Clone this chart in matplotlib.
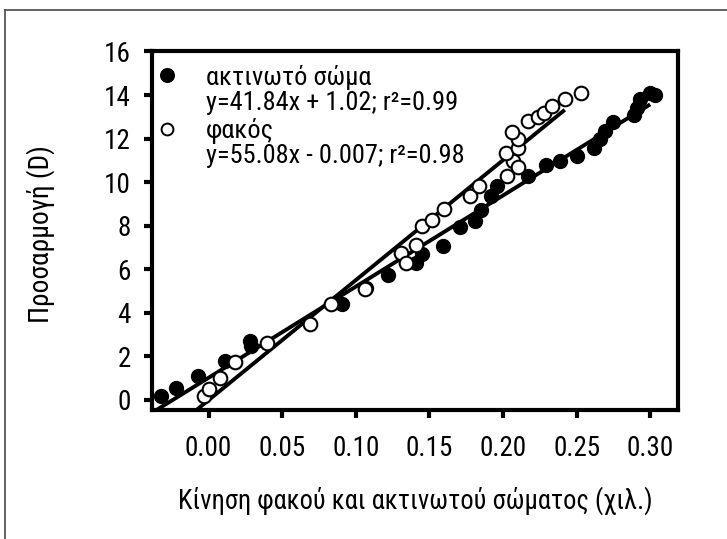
import matplotlib
matplotlib.use("Agg")
import matplotlib.pyplot as plt
from matplotlib.lines import Line2D
import numpy as np

plt.rcParams['font.family'] = ['Roboto Condensed', 'DejaVu Sans']

# Ciliary body movement (filled circles)
cb_x = [-0.032, -0.022, -0.007, 0.011, 0.028, 0.029, 0.0905, 0.107, 0.122, 0.141, 0.145,
        0.159, 0.171, 0.181, 0.185, 0.192, 0.196, 0.217, 0.229, 0.239, 0.250, 0.262,
        0.266, 0.269, 0.275, 0.289, 0.291, 0.293, 0.300, 0.303]
cb_y = [0.20, 0.57, 1.10, 1.78, 2.70, 2.50, 4.39, 5.13, 5.73, 6.29, 6.68,
        7.08, 7.95, 8.21, 8.74, 9.37, 9.84, 10.30, 10.80, 10.95, 11.20, 11.55,
        11.97, 12.37, 12.76, 13.08, 13.40, 13.80, 14.10, 14.00]

# Lens movement (open circles)
lens_x = [-0.003, 0.0006, 0.008, 0.018, 0.040, 0.069, 0.083, 0.106, 0.131, 0.134,
          0.141, 0.145, 0.152, 0.160, 0.1775, 0.184, 0.203, 0.207, 0.2105, 0.202,
          0.210, 0.2105, 0.206, 0.217, 0.224, 0.228, 0.233, 0.242, 0.253]
lens_y = [0.20, 0.52, 1.03, 1.74, 2.62, 3.49, 4.39, 5.10, 6.76, 6.29,
          7.11, 7.99, 8.26, 8.78, 9.37, 9.84, 10.28, 10.95, 10.70, 11.34,
          11.58, 11.97, 12.32, 12.80, 12.97, 13.16, 13.50, 13.80, 14.08]

# Linear fits
cb_slope, cb_icpt = 41.84, 1.02
lens_slope, lens_icpt = 55.08, -0.007
cb_fit_range = [-0.036, 0.300]
lens_fit_range = [-0.009, 0.242]

x_ticks = [0.00, 0.05, 0.10, 0.15, 0.20, 0.25, 0.30]
y_ticks = [0, 2, 4, 6, 8, 10, 12, 14, 16]

cb_label = "ακτινωτό σώμα"
cb_eq = "y=41.84x + 1.02; r²=0.99"
lens_label = "φακός"
lens_eq = "y=55.08x - 0.007; r²=0.98"
x_title = "Κίνηση φακού και ακτινωτού σώματος (χιλ.)"
y_title = "Προσαρμογή (D)"

fig = plt.figure(figsize=(7.27, 5.39), dpi=100)
ax = fig.add_axes([0.2087, 0.2393, 0.7245, 0.6652])

# Outer frame lines (left and top)
fig.add_artist(Line2D([4.5 / 727, 4.5 / 727], [0, 1 - 9.5 / 539], transform=fig.transFigure,
                      color='#555555', lw=1.3))
fig.add_artist(Line2D([4.5 / 727, 1], [1 - 9.5 / 539, 1 - 9.5 / 539], transform=fig.transFigure,
                      color='#555555', lw=1.3))

# Regression lines
fx = np.array(cb_fit_range)
ax.plot(fx, cb_slope * fx + cb_icpt, color='black', lw=2.8, zorder=2, solid_capstyle='butt')
fx = np.array(lens_fit_range)
ax.plot(fx, lens_slope * fx + lens_icpt, color='black', lw=2.8, zorder=2, solid_capstyle='butt')

ax.plot(cb_x, cb_y, 'o', ms=9.8, mfc='black', mec='black', mew=1.2, zorder=3, clip_on=False)
ax.plot(lens_x, lens_y, 'o', ms=9.8, mfc='white', mec='black', mew=1.5, zorder=4, clip_on=False)

ax.set_xlim(-0.0386, 0.3192)
ax.set_ylim(-0.46, 16)
ax.set_xticks(x_ticks)
ax.set_xticklabels([f"{v:.2f}" for v in x_ticks])
ax.set_yticks(y_ticks)
ax.set_yticklabels([str(v) for v in y_ticks])

for s in ax.spines.values():
    s.set_linewidth(3.0)
ax.tick_params(axis='both', direction='out', length=6, width=3.0, labelsize=19.5)
ax.tick_params(axis='x', pad=12)
ax.tick_params(axis='y', pad=9)

ax.set_xlabel(x_title, fontsize=19.1)
ax.set_ylabel(y_title, fontsize=19.7)
ax.xaxis.set_label_coords(0.5, -0.213)
ax.yaxis.set_label_coords(-0.183, 0.49)

# Key with fit equations
ax.plot([-0.028], [14.9], 'o', ms=9.8, mfc='black', mec='black', zorder=3)
ax.plot([-0.028], [12.45], 'o', ms=8.5, mfc='white', mec='black', mew=1.4, zorder=3)
tx = -0.0016
ax.text(tx, 14.8, cb_label, fontsize=19, va='center', ha='left')
ax.text(tx, 13.65, cb_eq, fontsize=19, va='center', ha='left')
ax.text(tx, 12.35, lens_label, fontsize=19, va='center', ha='left')
ax.text(tx, 11.2, lens_eq, fontsize=19, va='center', ha='left')

fig.savefig("out.png", dpi=100)
